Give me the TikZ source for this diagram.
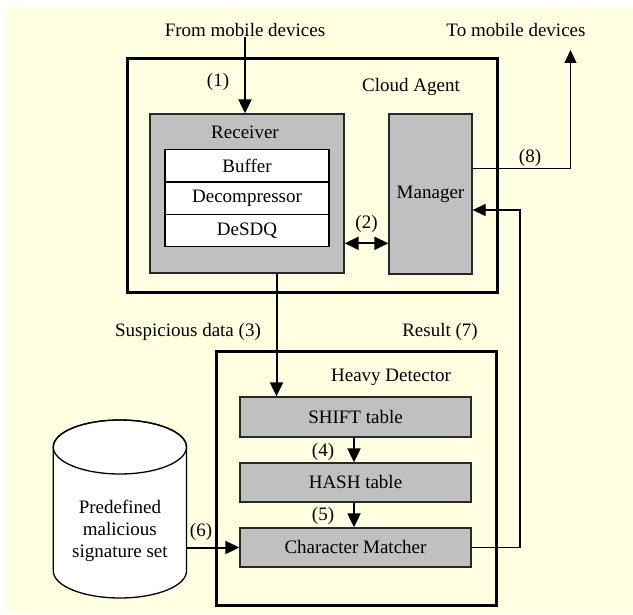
\documentclass[tikz,border=0pt]{standalone}
\usepackage{fontspec}
\setmainfont{Liberation Serif}
\usetikzlibrary{arrows.meta}
\definecolor{bgyellow}{RGB}{255,255,226}
\definecolor{boxgray}{RGB}{192,192,192}
\definecolor{edgegray}{RGB}{40,40,40}
\begin{document}
\begin{tikzpicture}[x=1pt,y=1pt,
  every node/.style={font=\fontsize{19}{22}\selectfont, inner sep=0pt},
  bigbox/.style={draw=black, line width=3pt, fill=none},
  graybox/.style={draw=edgegray, line width=1.3pt, fill=boxgray},
  whitebox/.style={draw=black, line width=1.3pt, fill=white, minimum width=164, minimum height=32.3},
  lbl/.style={text=black},
  thickarrow/.style={line width=2pt, -{Triangle[length=14pt,width=13pt]}},
  dblarrow/.style={line width=2pt, {Triangle[length=14pt,width=13pt]}-{Triangle[length=14pt,width=13pt]}},
  thinarrow/.style={line width=1.3pt, -{Triangle[length=13pt,width=12pt]}}
]
\useasboundingbox (0,0) rectangle (633,-615);
\fill[bgyellow] (6,-7) rectangle (633,-613);

% top texts
\node[lbl] (from) at (245,-30) {From mobile devices};
\node[lbl] (to) at (516,-30) {To mobile devices};

% cloud agent
\node[bigbox, minimum width=370, minimum height=234] (cloud) at (312,-176) {};
\node[lbl] (cloudlbl) at (411,-87) {Cloud Agent};

\node[graybox, minimum width=194, minimum height=159] (recv) at (247,-193.5) {};
\node[lbl] (recvlbl) at (245,-132) {Receiver};
\node[whitebox] (buffer) at (247,-166) {Buffer};
\node[whitebox] (decomp) at (247,-198.3) {Decompressor};
\node[whitebox] (desdq) at (247,-230.6) {DeSDQ};

\node[graybox, minimum width=83, minimum height=160] (manager) at (430.5,-194) {Manager};

% heavy detector
\node[bigbox, minimum width=280, minimum height=253] (heavy) at (356,-478.5) {};
\node[lbl] (heavylbl) at (391,-377) {Heavy Detector};
\node[graybox, minimum width=231, minimum height=40] (shift) at (355.5,-417) {SHIFT table};
\node[graybox, minimum width=231, minimum height=39] (hash) at (355.5,-482.5) {HASH table};
\node[graybox, minimum width=231, minimum height=39] (charm) at (355.5,-547.5) {Character Matcher};

% database cylinder
\draw[line width=1.3pt, fill=white] (53.3,-447) -- (53.3,-571)
  arc[start angle=180, end angle=360, x radius=66.6, y radius=27]
  -- (186.5,-447)
  arc[start angle=0, end angle=180, x radius=66.6, y radius=27] -- cycle;
\draw[line width=1.3pt] (119.9,-447) ellipse[x radius=66.6, y radius=27];
\node[lbl, align=center, minimum width=133.2] (db) at (119.9,-531) {Predefined\\malicious\\signature set};

% connectors
\draw[thickarrow] (from.south) -- (from.south |- recv.north);
\node[lbl] (l1) at (218,-82) {(1)};

\coordinate (d2) at (recv.east |- 0,-243.3);
\draw[dblarrow] (d2) -- (manager.west |- d2);
\node[lbl] (l2) at (366.5,-224) {(2)};

\coordinate (s3) at (276.5,-273);
\draw[thickarrow] (recv.south -| s3) -- (shift.north -| s3);
\node[lbl] (l3) at (188,-332) {Suspicious data (3)};

\coordinate (a4) at (354,0);
\draw[thickarrow] (shift.south -| a4) -- (hash.north -| a4);
\node[lbl] (l4) at (323,-452) {(4)};
\draw[thickarrow] (hash.south -| a4) -- (charm.north -| a4);
\node[lbl] (l5) at (323,-516) {(5)};

\draw[thickarrow] (db.east |- charm.west) -- (charm.west);
\node[lbl] (l6) at (201,-532) {(6)};

\coordinate (r7) at (520,-210);
\draw[thinarrow] (charm.east) -| (r7) -- (manager.east |- r7);
\node[lbl] (l7) at (440,-332) {Result (7)};

\coordinate (m8) at (manager.east |- 0,-168.3);
\coordinate (t8) at (570.5,-50);
\draw[thinarrow] (m8) -| (t8);
\node[lbl] (l8) at (530,-158) {(8)};
\end{tikzpicture}
\end{document}
